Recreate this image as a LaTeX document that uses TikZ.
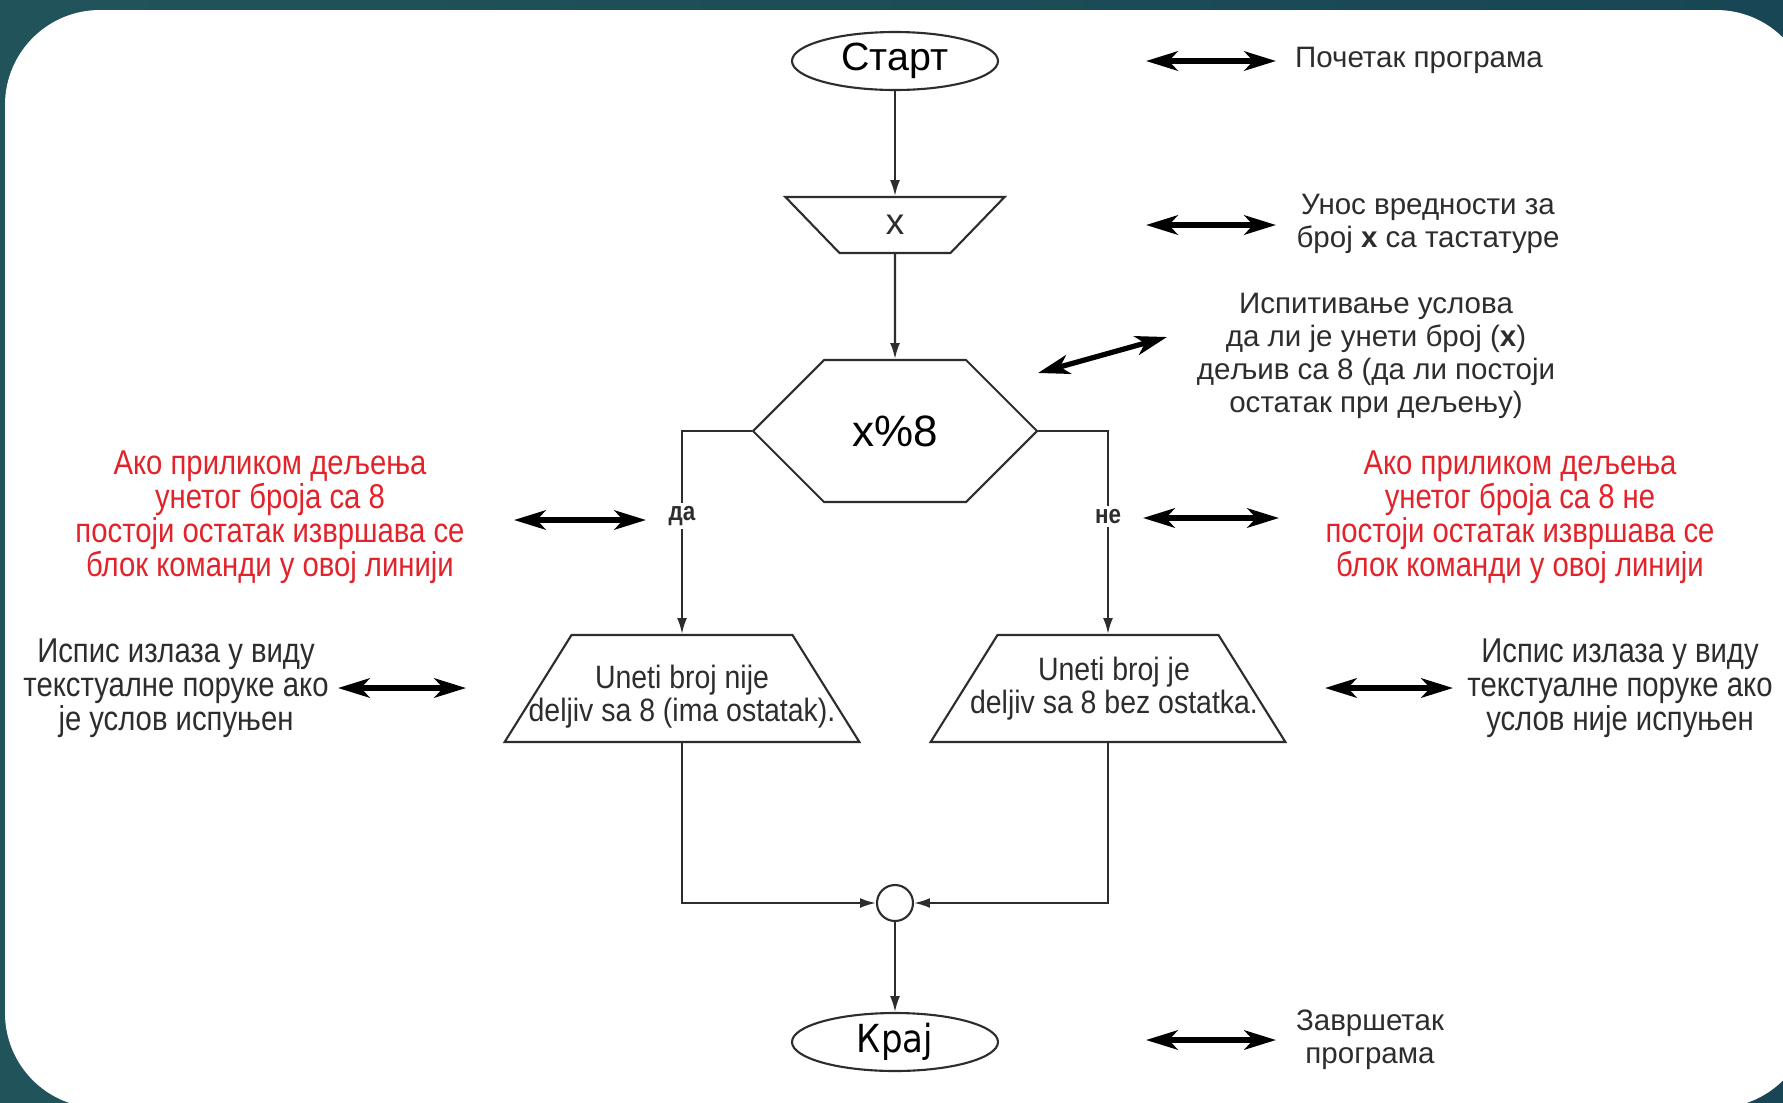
\documentclass[tikz,border=0pt]{standalone}
\usepackage{fontspec}
\setmainfont{Liberation Sans}
\newfontfamily\narrowfont[FakeStretch=0.85]{Liberation Sans}
\newfontfamily\boxfont[FakeStretch=0.88]{Liberation Sans}
\newfontfamily\endfont[FakeStretch=0.88]{DejaVu Sans}
\usepackage{xcolor}
\usepackage{tikz}
\usetikzlibrary{arrows.meta, positioning, shapes.geometric, shapes.symbols}
\definecolor{slideleft}{RGB}{33,84,90}
\definecolor{slideright}{RGB}{24,70,84}
\definecolor{notered}{RGB}{226,35,42}
\definecolor{inkgray}{RGB}{45,45,45}
\tikzset{
  chartline/.style={draw=inkgray, line width=0.6pt},
  terminal/.style={chartline, ellipse, minimum width=2.06cm, minimum height=0.58cm,
                   inner sep=0pt, font=\fontsize{11.2}{12}\selectfont},
  inbox/.style={chartline, trapezium, shape border rotate=180,
                trapezium left angle=46, trapezium right angle=46,
                inner xsep=0.555cm, inner ysep=0.28cm},
  intext/.style={font=\fontsize{10.5}{12}\selectfont, text=inkgray},
  outbox/.style={chartline, trapezium, trapezium left angle=58, trapezium right angle=58,
                 inner xsep=1.105cm, inner ysep=0.535cm},
  outtext/.style={align=center, font=\boxfont\fontsize{9.2}{9.4}\selectfont, text=inkgray},
  testbox/.style={chartline, signal, signal to=west and east, signal pointer angle=90,
                  minimum width=2.84cm, minimum height=1.42cm, inner sep=0pt,
                  font=\fontsize{12.5}{14}\selectfont},
  joinpt/.style={chartline, circle, minimum size=0.36cm, inner sep=0pt},
  flow/.style={chartline, -{Latex[length=4.5pt, width=2.8pt]}},
  branchlbl/.style={font=\narrowfont\bfseries\fontsize{7.5}{8}\selectfont, fill=white,
                    inner sep=1pt, text=inkgray},
  notearrow/.style={{Stealth[length=9pt, width=5.5pt, inset=2.5pt]}-{Stealth[length=9pt, width=5.5pt, inset=2.5pt]},
                    line width=1.5pt, black},
  note/.style={align=center, font=\fontsize{8.4}{9.4}\selectfont, text=inkgray, inner sep=0pt},
  rednote/.style={align=center, font=\narrowfont\fontsize{9.8}{9.7}\selectfont, text=notered, inner sep=0pt},
  sidenote/.style={rednote, text=inkgray}
}

\begin{document}
\begin{tikzpicture}

% --- Slide frame ---
\useasboundingbox (0,0) rectangle (17.83,-11.02);
\shade[left color=slideleft, right color=slideright] (0,0) rectangle (17.83,-11.02);
\begin{scope}
  \clip (0,0) rectangle (17.83,-11.02);
  \fill[white, rounded corners=0.95cm] (0.05,-0.10) rectangle (18.11,-11.08);
\end{scope}

% --- Main column ---
\node[terminal] (start) at (8.95,-0.61) {Старт};
\node[inbox, label={[intext]center:x}] (input) at (8.95,-2.25) {};
\node[testbox]  (cond)  at (8.95,-4.31) {x\%8};

% --- Two output branches ---
\node[outbox, label={[outtext, yshift=-0.08cm]center:Uneti broj nije\\deljiv sa 8 (ima ostatak).}] (outyes) at (6.82,-6.885) {};
\node[outbox, label={[outtext, xshift=0.06cm]center:Uneti broj je\\deljiv sa 8 bez ostatka.}] (outno) at (11.08,-6.885) {};

% --- Join and end ---
\node[joinpt]   (merge) at (8.95,-9.03) {};
\node[terminal, font=\endfont\fontsize{11}{12}\selectfont] (end) at (8.95,-10.42) {Крај};

% --- Flow arrows ---
\draw[flow] (start) -- (input);
\draw[flow] (input) -- (cond);
\draw[flow] (cond.west) -| (outyes.north) node[branchlbl, pos=0.71] {да};
\draw[flow] (cond.east) -| (outno.north)  node[branchlbl, pos=0.71] {не};
\draw[flow] (outyes.south) |- (merge.west);
\draw[flow] (outno.south)  |- (merge.east);
\draw[flow] (merge) -- (end);

% --- Notes ---
\node[note] (n1) at (14.19,-0.60) {Почетак програма};
\node[note] (n2) at (14.28,-2.24) {Унос вредности за\\број \textbf{x} са тастатуре};
\node[note] (n3) at (13.76,-3.56) {Испитивање услова\\да ли је унети број (\textbf{x})\\дељив са 8 (да ли постоји\\остатак при дељењу)};
\node[rednote] (n4) at (2.70,-5.17) {Ако приликом дељења\\унетог броја са 8\\постоји остатак извршава се\\блок команди у овој линији};
\node[rednote] (n5) at (15.20,-5.17) {Ако приликом дељења\\унетог броја са 8 не\\постоји остатак извршава се\\блок команди у овој линији};
\node[sidenote] (n6) at (1.76,-6.88) {Испис излаза у виду\\текстуалне поруке ако\\је услов испуњен};
\node[sidenote] (n7) at (16.20,-6.88) {Испис излаза у виду\\текстуалне поруке ако\\услов није испуњен};
\node[note] (n8) at (13.70,-10.40) {Завршетак\\програма};

% --- Note arrows (free ends) ---
\coordinate (a1l) at (11.46,-0.61);  \coordinate (a1r) at (12.76,-0.61);
\coordinate (a2l) at (11.46,-2.25);  \coordinate (a2r) at (12.76,-2.25);
\coordinate (a3l) at (10.38,-3.73);  \coordinate (a3r) at (11.67,-3.37);
\coordinate (a4l) at (5.14,-5.20);   \coordinate (a4r) at (6.46,-5.20);
\coordinate (a5l) at (11.43,-5.18);  \coordinate (a5r) at (12.79,-5.18);
\coordinate (a6l) at (3.38,-6.88);   \coordinate (a6r) at (4.66,-6.88);
\coordinate (a7l) at (13.25,-6.88);  \coordinate (a7r) at (14.53,-6.88);
\coordinate (a8l) at (11.46,-10.40); \coordinate (a8r) at (12.76,-10.40);
\draw[notearrow] (a1l) -- (a1r);
\draw[notearrow] (a2l) -- (a2r);
\draw[notearrow] (a3l) -- (a3r);
\draw[notearrow] (a4l) -- (a4r);
\draw[notearrow] (a5l) -- (a5r);
\draw[notearrow] (a6l) -- (a6r);
\draw[notearrow] (a7l) -- (a7r);
\draw[notearrow] (a8l) -- (a8r);

\end{tikzpicture}
\end{document}
